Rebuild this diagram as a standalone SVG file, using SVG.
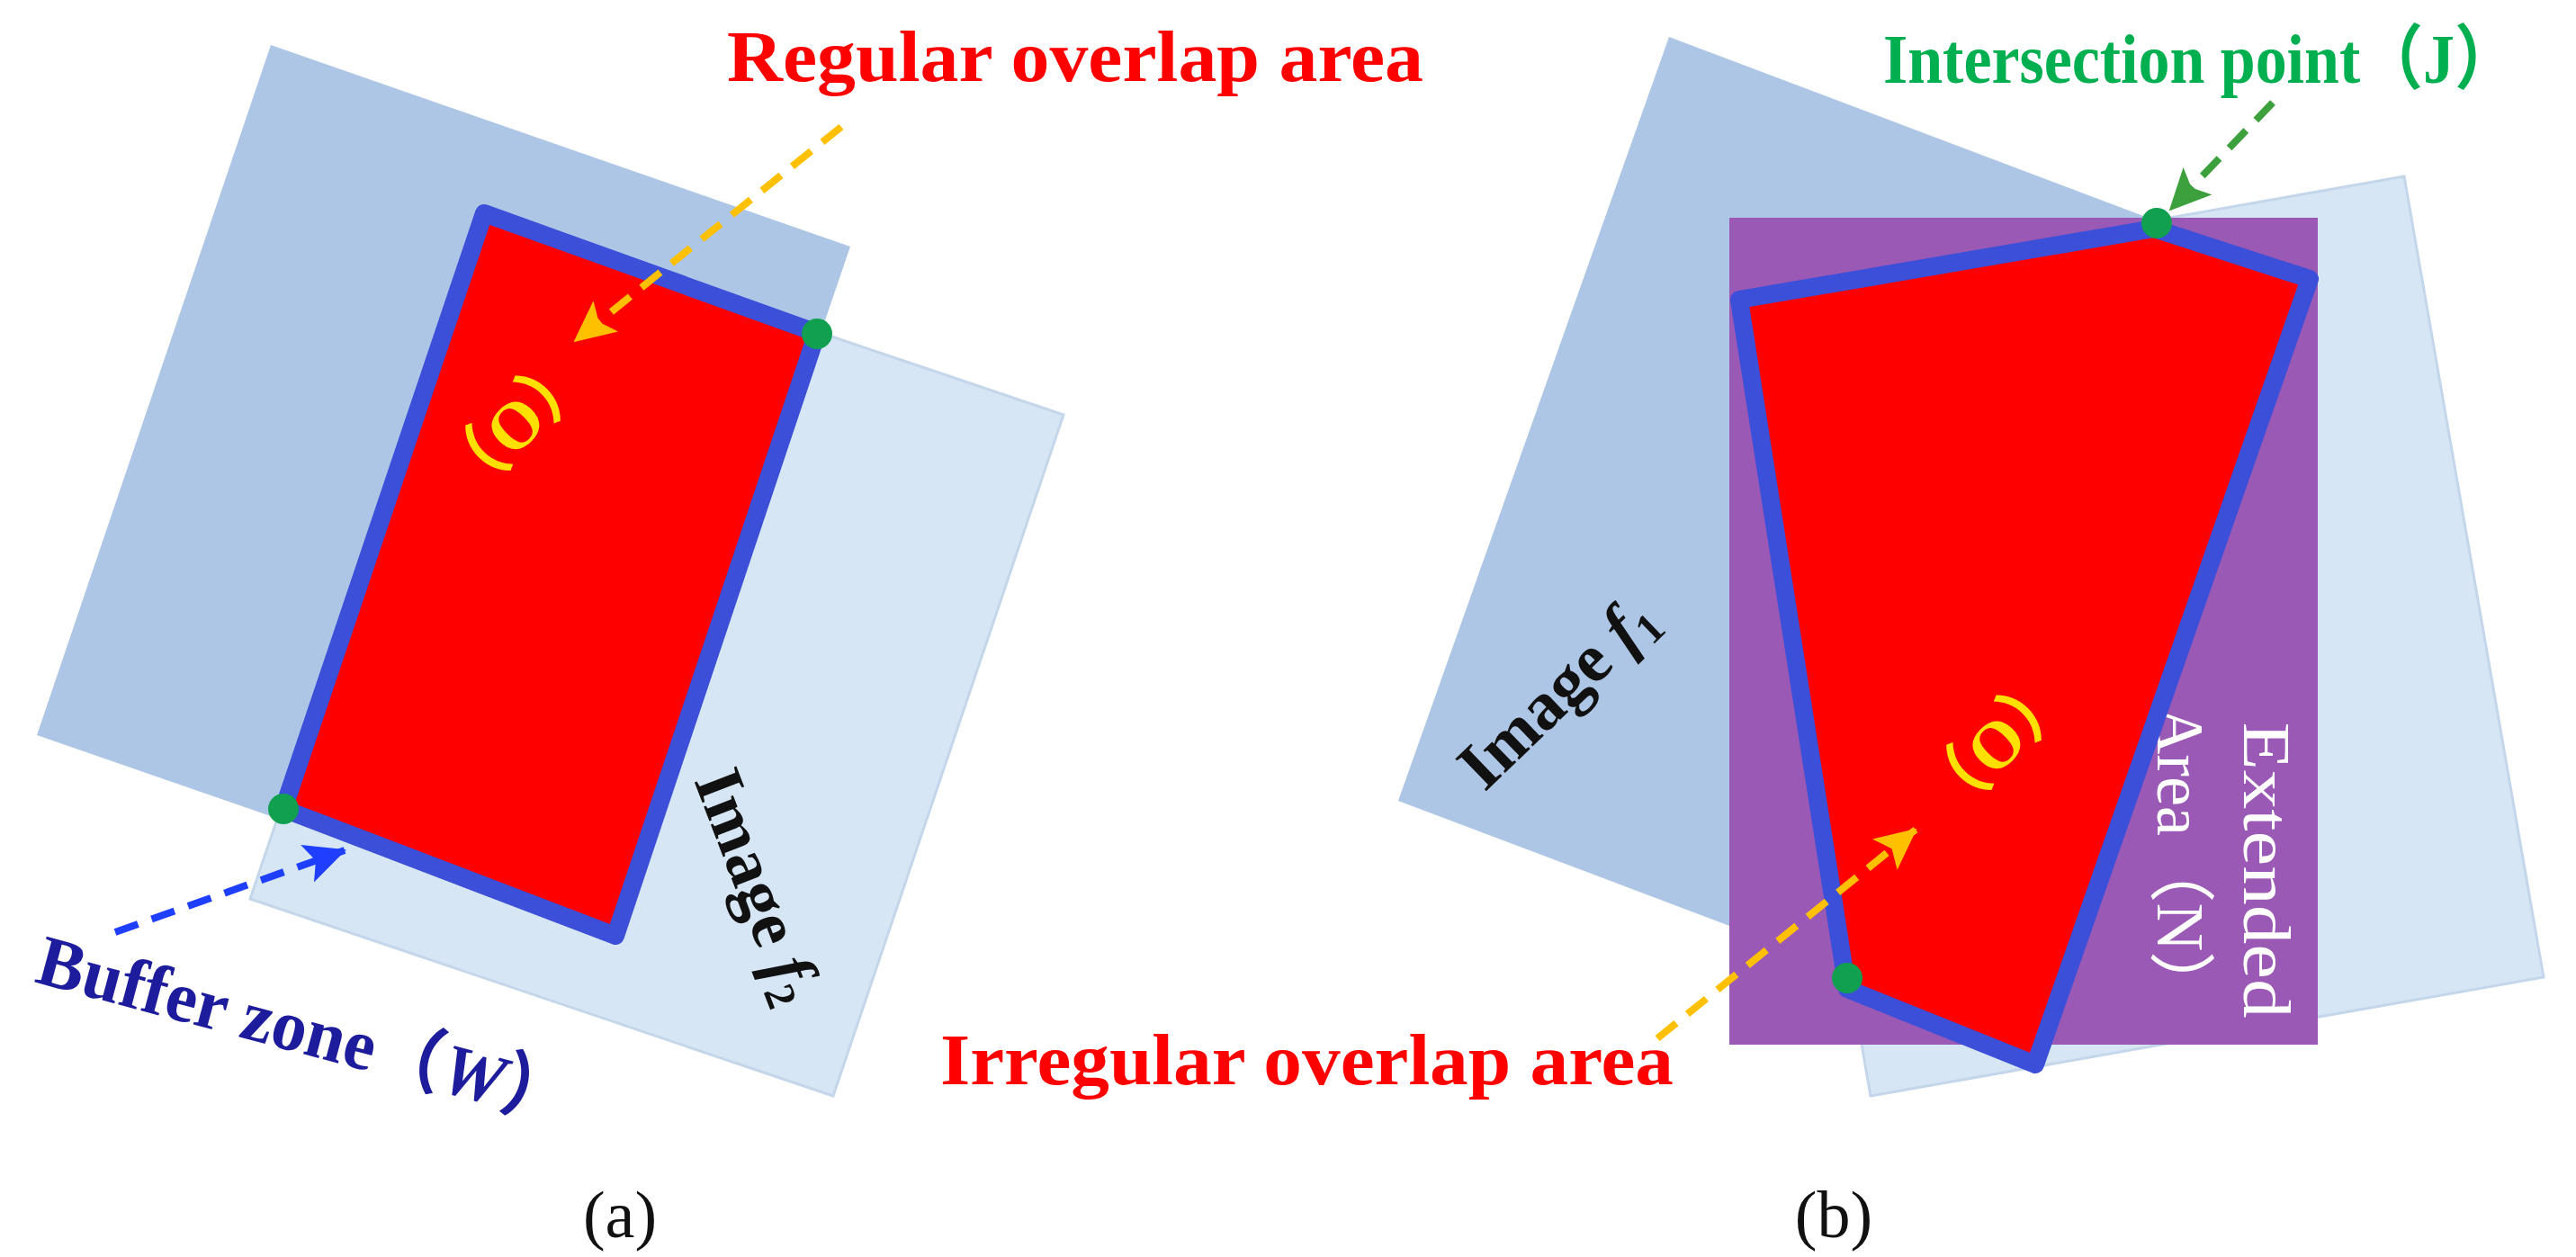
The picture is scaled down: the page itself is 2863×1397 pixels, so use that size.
<svg xmlns="http://www.w3.org/2000/svg" width="2863" height="1397" viewBox="0 0 2863 1397">
<style>
.dark{fill:#aec6e6}
.light{fill:#d6e6f4;stroke:#c4d6ea;stroke-width:3}
.ov{fill:#ff0000;stroke:#3b4fd8;stroke-width:20;stroke-linejoin:round}
.dot{fill:#10a050}
.lbl{font-family:"Liberation Serif","Noto Sans CJK SC",serif;font-weight:bold}
.cap{font-family:"Liberation Serif",serif;font-size:74px;fill:#111}
.dash{fill:none;stroke-width:8;stroke-dasharray:27 16}
</style>
<defs>
<marker id="ay" markerUnits="userSpaceOnUse" markerWidth="50" markerHeight="50" refX="44" refY="22" orient="auto"><path d="M0,0 L46,22 L0,44 L10,22 Z" fill="#ffc000"/></marker>
<marker id="ab" markerUnits="userSpaceOnUse" markerWidth="50" markerHeight="50" refX="44" refY="22" orient="auto"><path d="M0,0 L46,22 L0,44 L10,22 Z" fill="#1f3fff"/></marker>
<marker id="ag" markerUnits="userSpaceOnUse" markerWidth="50" markerHeight="50" refX="44" refY="22" orient="auto"><path d="M0,0 L46,22 L0,44 L10,22 Z" fill="#3ca03c"/></marker>
</defs>
<rect width="2863" height="1397" fill="#fff"/>
<g id="panel-a">
<g id="image-f1-a"><polygon class="dark" points="301,50 945,274 684,1040 41,817"/></g>
<g id="image-f2-a"><polygon class="light" points="534,242 1182,461 926,1218 278,999"/></g>
<g id="overlap-a"><polygon class="ov" points="538,237 908,370 684,1040 315,899"/>
<circle class="dot" cx="908" cy="371" r="17"/><circle class="dot" cx="315" cy="899" r="17"/>
<text class="lbl" font-size="74" fill="#ffe000" text-anchor="middle" transform="translate(590,490) rotate(-45)">（O）</text></g>
<g id="label-regular"><text class="lbl" x="808" y="90" font-size="80" fill="#ff0000" textLength="774" lengthAdjust="spacingAndGlyphs">Regular  overlap area</text></g>
<g id="label-buffer"><text class="lbl" font-size="80" fill="#1c1c9c" transform="translate(37,1091) rotate(15)" textLength="612" lengthAdjust="spacingAndGlyphs">Buffer zone（<tspan font-style="italic">W</tspan>）</text></g>
<g id="label-f2"><text class="lbl" font-size="76" fill="#111" transform="translate(771,867) rotate(69)">Image <tspan font-style="italic">f</tspan><tspan font-size="48" dy="12">2</tspan></text></g>
<text class="cap" x="689" y="1375" text-anchor="middle">(a)</text>
</g>
<g id="panel-b">
<g id="image-f1-b"><polygon class="dark" points="1855,41 2398,246 2097,1095 1554,890"/></g>
<g id="image-f2-b"><polygon class="light" points="1924,328 2672,196 2827,1086 2079,1218"/></g>
<g id="extended-area"><rect x="1922" y="242" width="654" height="919" fill="#9b59b6"/>
<text font-family="Liberation Serif,serif" font-size="74" fill="#fff" text-anchor="middle" transform="translate(2494,967) rotate(90)" textLength="329" lengthAdjust="spacingAndGlyphs">Extended</text>
<text font-family="Liberation Serif,'Noto Sans CJK SC',serif" font-size="74" fill="#fff" text-anchor="middle" transform="translate(2398,958) rotate(90)" textLength="347" lengthAdjust="spacingAndGlyphs">Area（N）</text></g>
<g id="overlap-b"><polygon class="ov" points="1933,333 2394,254 2567,310 2262,1183 2053,1099"/>
<circle class="dot" cx="2397" cy="248" r="17"/><circle class="dot" cx="2053" cy="1087" r="17"/>
<text class="lbl" font-size="74" fill="#ffe000" text-anchor="middle" transform="translate(2236,845) rotate(-45)">（O）</text></g>
<g id="label-intersection"><text class="lbl" x="2093" y="92" font-size="78" fill="#00b050" textLength="705" lengthAdjust="spacingAndGlyphs">Intersection point（J）</text></g>
<g id="label-irregular"><text class="lbl" x="1045" y="1205" font-size="80" fill="#ff0000" textLength="815" lengthAdjust="spacingAndGlyphs">Irregular  overlap area</text></g>
<g id="label-f1"><text class="lbl" font-size="76" fill="#111" transform="translate(1650,881) rotate(-44)">Image <tspan font-style="italic">f</tspan><tspan font-size="48" dy="12">1</tspan></text></g>
<text class="cap" x="2038" y="1375" text-anchor="middle">(b)</text>
</g>
<g id="connectors">
<path class="dash" stroke="#ffc000" d="M935,141 L639,379" marker-end="url(#ay)"/>
<path class="dash" stroke="#1f3fff" d="M128,1036 L383,945" marker-end="url(#ab)"/>
<path class="dash" stroke="#3ca03c" d="M2526,114 L2412,233" marker-end="url(#ag)"/>
<path class="dash" stroke="#ffc000" d="M1842,1154 L2129,922" marker-end="url(#ay)"/>
</g>
</svg>
